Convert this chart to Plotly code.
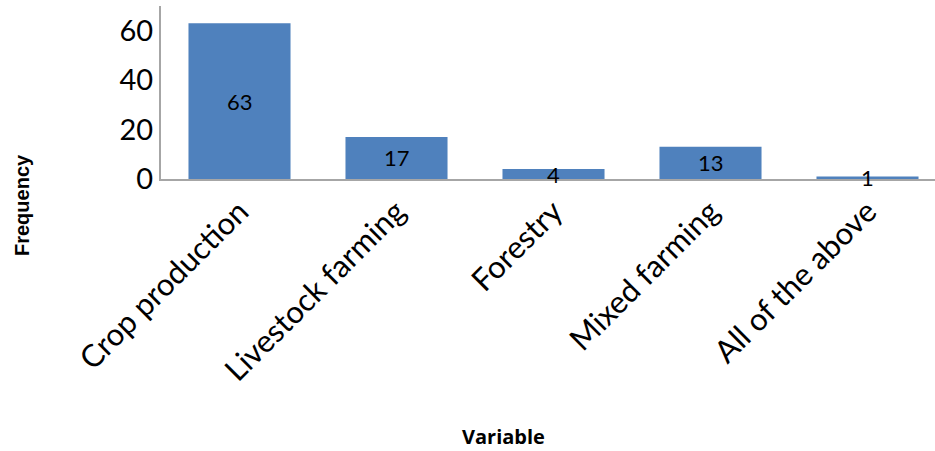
import plotly.graph_objects as go

# Frequency of farming activity by variable
categories = ["Crop production", "Livestock farming", "Forestry", "Mixed farming", "All of the above"]
frequency = [63, 17, 4, 13, 1]

BAR_COLOR = "#4F81BD"
FONT = "Lato, 'Open Sans', sans-serif"

W, H = 935, 451
L, T, B = 161, 6, 272
plot_w = W - L
plot_h = H - T - B


def px_to_paper(px, py):
    """Pixel position on the canvas -> paper coordinates of the plot area."""
    return (px - L) / plot_w, (H - B - py) / plot_h


fig = go.Figure()
fig.add_trace(go.Bar(
    x=categories,
    y=frequency,
    marker=dict(color=BAR_COLOR, line=dict(width=0)),
    width=0.65,
    hoverinfo="x+y",
))

# value labels centred on each bar (allowed to overflow short bars)
for cat, val in zip(categories, frequency):
    fig.add_annotation(
        x=cat, y=val / 2, text=str(val), showarrow=False,
        xref="x", yref="y", xanchor="center", yanchor="middle",
        font=dict(family=FONT, size=22, color="#000000"),
    )

# axis titles
fx, fy = px_to_paper(22, 205)
fig.add_annotation(
    x=fx, y=fy, xref="paper", yref="paper", text="<b>Frequency</b>",
    showarrow=False, textangle=-90, xanchor="center", yanchor="middle",
    font=dict(family="'Liberation Sans', Arial, sans-serif", size=20, color="#000000"),
)
vx, vy = px_to_paper(503, 436)
fig.add_annotation(
    x=vx, y=vy, xref="paper", yref="paper", text="<b>Variable</b>",
    showarrow=False, xanchor="center", yanchor="middle",
    font=dict(family="'Open Sans', sans-serif", size=20, color="#000000"),
)

# the category axis runs slightly past the right edge of the canvas
slot = 157.0
x_max = -0.5 + plot_w / slot

fig.update_layout(
    width=W, height=H,
    margin=dict(l=L, r=0, t=T, b=B, autoexpand=False),
    plot_bgcolor="#FFFFFF", paper_bgcolor="#FFFFFF",
    showlegend=False,
    xaxis=dict(
        range=[-0.5, x_max],
        showline=True, linecolor="#A6A6A6", linewidth=2,
        ticks="", tickangle=-45,
        tickfont=dict(family=FONT, size=31, color="#000000"),
        showgrid=False, zeroline=False,
    ),
    yaxis=dict(
        range=[0, 70],
        tickvals=[0, 20, 40, 60],
        showline=True, linecolor="#A6A6A6", linewidth=2,
        ticks="", ticklen=0,
        tickfont=dict(family=FONT, size=29, color="#000000"),
        showgrid=False, zeroline=False,
    ),
)

fig.write_html("out.html")
